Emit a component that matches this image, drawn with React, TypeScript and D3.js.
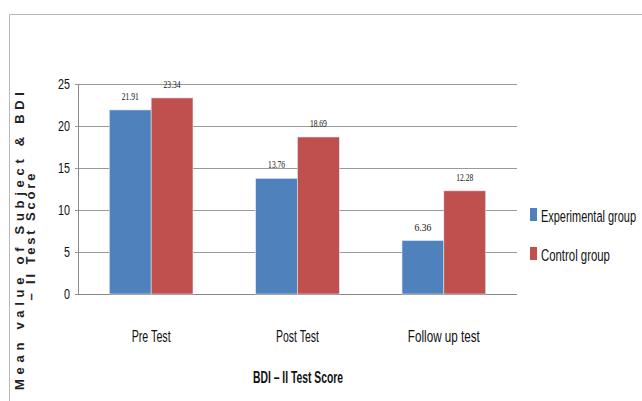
import React, { useLayoutEffect, useRef, useState } from "react";
import * as d3 from "d3";

const categories = ["Pre Test", "Post Test", "Follow up test"];
const seriesNames = ["Experimental group", "Control group"];
const experimental = [21.91, 13.76, 6.36];
const control = [23.34, 18.69, 12.28];
const yTicks = [0, 5, 10, 15, 20, 25];
const colors = ["#4F81BD", "#C0504D"];
const catWidths = [39, 43, 72];
const legendWidths = [95, 69];

function FitText(props: any) {
  const { x, y, width, anchor = "start", children, ...rest } = props;
  const ref = useRef<SVGTextElement>(null);
  const [sx, setSx] = useState(1);
  useLayoutEffect(() => {
    if (ref.current) {
      const w = ref.current.getComputedTextLength();
      if (w > 0) setSx(width / w);
    }
  }, [width, children]);
  return (
    <text ref={ref} transform={`translate(${x},${y}) scale(${sx},1)`} textAnchor={anchor} {...rest}>
      {children}
    </text>
  );
}

export default function App() {
  const W = 642, H = 401;
  const left = 78, right = 517, top = 84, bottom = 294;
  const x0 = d3.scaleBand<string>().domain(categories).range([left, right]).paddingInner(0).paddingOuter(0);
  const y = d3.scaleLinear().domain([0, 25]).range([bottom, top]);
  const bw = x0.bandwidth() / 3.5;
  const series = [experimental, control];
  const font = "'Liberation Sans', Arial, sans-serif";
  return (
    <svg width={W} height={H} style={{ position: "absolute", left: 0, top: 0, background: "#fff" }}>
      <rect x={0} y={0} width={W} height={H} fill="#fff" />
      <path d="M9.5,401 V14.5 H642" fill="none" stroke="#b8b8b8" strokeWidth={1} />
      {yTicks.map((t) => (
        <g key={t}>
          <line x1={left - 3} x2={right} y1={Math.round(y(t)) + 0.5} y2={Math.round(y(t)) + 0.5}
            stroke={t === 0 ? "#888" : "#999"} strokeWidth={1} />
          <FitText x={left - 8} y={y(t) + 5} width={t >= 10 ? 12 : 6} anchor="end" fontFamily={font}
            fontSize={15} fill="#111">{t}</FitText>
        </g>
      ))}
      <line x1={left + 0.5} x2={left + 0.5} y1={top} y2={bottom} stroke="#888" />
      {categories.map((c, i) => (
        <g key={c}>
          {series.map((s, j) => {
            const bx = (x0(c) as number) + bw * 0.75 + j * bw;
            return (
              <g key={j}>
                <rect x={bx} y={y(s[i])} width={bw} height={bottom - y(s[i])} fill={colors[j]}
                  stroke="#dde6f0" strokeWidth={0.6} />
                <FitText x={bx + bw / 2} y={y(s[i]) - 10} width={17} anchor="middle"
                  fontFamily="'Liberation Serif', 'Times New Roman', serif" fontSize={11}
                  fill="#111">{s[i].toFixed(2)}</FitText>
              </g>
            );
          })}
          <FitText x={(x0(c) as number) + x0.bandwidth() / 2} y={342} width={catWidths[i]} anchor="middle"
            fontFamily={font} fontSize={17} fill="#111">{c}</FitText>
        </g>
      ))}
      <FitText x={298} y={383} width={90} anchor="middle" fontFamily={font} fontSize={16} fontWeight="bold"
        fill="#111">BDI – II Test Score</FitText>
      <text transform="translate(19,241) rotate(-90)" textAnchor="middle" dominantBaseline="central"
        fontFamily={font} fontSize={13} fontWeight="bold" textLength={298} lengthAdjust="spacing"
        fill="#222">Mean value of Subject &amp; BDI</text>
      <text transform="translate(30,237) rotate(-90)" textAnchor="middle" dominantBaseline="central"
        fontFamily={font} fontSize={13} fontWeight="bold" textLength={127} lengthAdjust="spacing"
        fill="#222">– II Test Score</text>
      {seriesNames.map((n, j) => (
        <g key={n}>
          <rect x={530} y={208 + j * 39} width={7} height={13} fill={colors[j]} />
          <FitText x={541} y={222 + j * 39} width={legendWidths[j]} fontFamily={font} fontSize={17}
            fill="#111">{n}</FitText>
        </g>
      ))}
    </svg>
  );
}
